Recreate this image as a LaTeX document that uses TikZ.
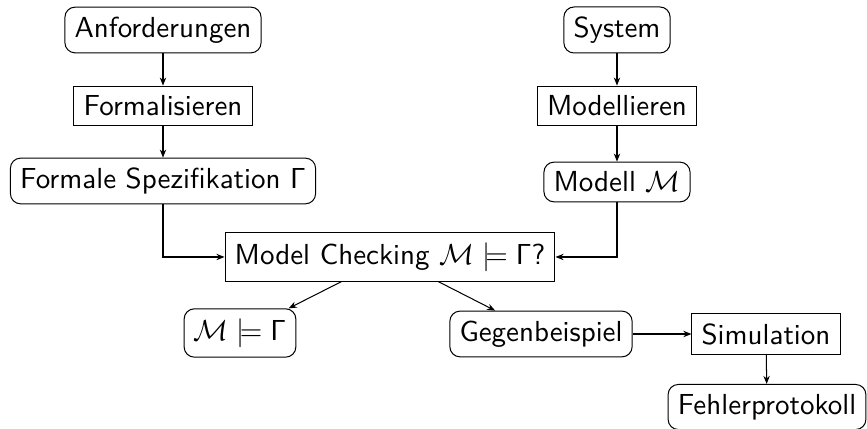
\documentclass[tikz,border=0pt]{standalone}
\usetikzlibrary{arrows.meta}
\begin{document}
\begin{tikzpicture}[x=0.345pt,y=-0.345pt,
  font=\sffamily, line width=0.35pt,
  rbox/.style={draw, rounded corners=3.5pt, inner sep=3.33pt},
  sbox/.style={draw, inner sep=3.33pt},
  arr/.style={-{Stealth[length=2.8pt,width=2.2pt]}}]
\useasboundingbox (0,0) rectangle (867,429);
\node[rbox] (anf) at (163,30) {Anforderungen};
\node[sbox] (form) at (163,106) {Formalisieren};
\node[rbox] (spec) at (163,181) {Formale Spezifikation $\mathsf{\Gamma}$};
\node[rbox] (sys) at (617,30) {System};
\node[sbox] (mod) at (617,106) {Modellieren};
\node[rbox] (mm) at (617,182) {Modell $\mathcal{M}$};
\node[sbox] (mc) at (390,257) {Model Checking $\mathcal{M} \models \mathsf{\Gamma}$?};
\node[rbox] (ok) at (240,333) {$\mathcal{M} \models \mathsf{\Gamma}$};
\node[rbox] (ce) at (541,334) {Gegenbeispiel};
\node[sbox] (sim) at (766,334) {Simulation};
\node[rbox] (fp) at (767,407) {Fehlerprotokoll};
\draw[arr] (anf) -- (form);
\draw[arr] (form) -- (spec);
\draw[arr] (sys) -- (mod);
\draw[arr] (mod) -- (mm);
\draw[arr] (spec.south) |- (mc.west);
\draw[arr] (mm.south) |- (mc.east);
\draw[arr] (mc) -- (ok);
\draw[arr] (mc) -- (ce);
\draw[arr] (ce) -- (sim);
\draw[arr] (sim) -- (fp);
\end{tikzpicture}
\end{document}
